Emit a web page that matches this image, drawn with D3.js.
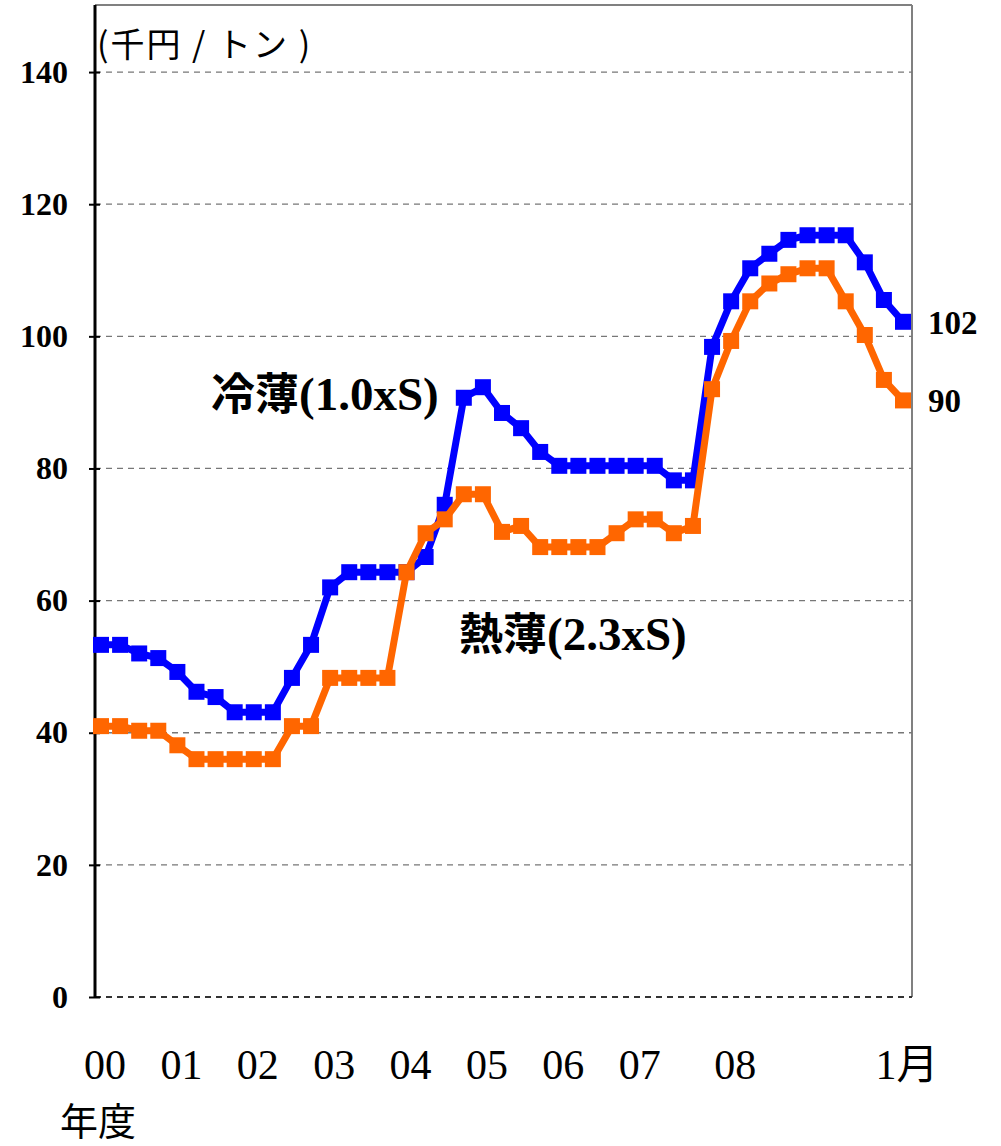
<!DOCTYPE html>
<html>
<head>
  <meta charset="utf-8">
  <script src="https://d3js.org/d3.v7.min.js"></script>
  <style>
    body { margin: 0; background: #fff; }
  </style>
</head>
<body>
<script>
// Cold-rolled sheet (冷薄) and hot-rolled sheet (熱薄) prices, thousand yen / ton
var coldValues = [53.3, 53.3, 52.0, 51.3, 49.2, 46.2, 45.4, 43.1, 43.1, 43.1,
                  48.3, 53.3, 62.0, 64.3, 64.3, 64.3, 64.3, 66.6, 74.5, 90.7,
                  92.3, 88.4, 86.1, 82.5, 80.4, 80.4, 80.4, 80.4, 80.4, 80.4,
                  78.2, 78.2, 98.4, 105.3, 110.3, 112.5, 114.6, 115.3, 115.3, 115.3,
                  111.2, 105.5, 102.2];
var hotValues = [41.0, 41.0, 40.3, 40.3, 38.1, 36.0, 36.0, 36.0, 36.0, 36.0,
                 41.0, 41.0, 48.3, 48.3, 48.3, 48.3, 64.3, 70.2, 72.3, 76.1,
                 76.1, 70.4, 71.3, 68.1, 68.1, 68.1, 68.1, 70.2, 72.3, 72.3,
                 70.2, 71.3, 92.0, 99.3, 105.3, 108.0, 109.4, 110.3, 110.3, 105.3,
                 100.2, 93.4, 90.3];
var xTickLabels = ["00", "01", "02", "03", "04", "05", "06", "07", "08", "1月"];
var xTickIndex = [0, 4, 8, 12, 16, 20, 24, 28, 33, 42];
var yTicks = [0, 20, 40, 60, 80, 100, 120, 140];
var endLabels = ["102", "90"];

var SERIF = '"Liberation Serif", "Noto Sans CJK JP", serif';
var SANS = '"Noto Sans CJK JP", sans-serif';

var width = 1001, height = 1146;
var plot = {left: 95, right: 912, top: 5, bottom: 997};

var svg = d3.select("body").append("svg")
  .attr("width", width)
  .attr("height", height);

var x = d3.scalePoint()
  .domain(d3.range(coldValues.length))
  .range([101, 903]);

var y = d3.scaleLinear()
  .domain([0, 150])
  .range([plot.bottom, 6]);

// frame (top and right border)
svg.append("line")
  .attr("x1", plot.left).attr("x2", plot.right)
  .attr("y1", plot.top).attr("y2", plot.top)
  .attr("stroke", "#808080").attr("stroke-width", 2);
svg.append("line")
  .attr("x1", plot.right).attr("x2", plot.right)
  .attr("y1", plot.top).attr("y2", plot.bottom)
  .attr("stroke", "#808080").attr("stroke-width", 2);

// dashed gridlines
svg.selectAll(".grid")
  .data(yTicks)
  .enter().append("line")
  .attr("class", "grid")
  .attr("x1", plot.left).attr("x2", plot.right)
  .attr("y1", function(d) { return y(d); })
  .attr("y2", function(d) { return y(d); })
  .attr("stroke", function(d) { return d === 0 ? "#333" : "#777"; })
  .attr("stroke-width", function(d) { return d === 0 ? 2 : 1.3; })
  .attr("stroke-dasharray", "6,5");

// y axis
var yAxis = d3.axisLeft(y)
  .tickValues(yTicks)
  .tickSize(6)
  .tickPadding(21);

var gy = svg.append("g")
  .attr("transform", "translate(" + plot.left + ",0)")
  .call(yAxis);
gy.select(".domain").remove();
gy.append("line")
  .attr("x1", 0).attr("x2", 0)
  .attr("y1", plot.top).attr("y2", plot.bottom)
  .attr("stroke", "#000").attr("stroke-width", 3);
gy.selectAll(".tick line")
  .attr("stroke", "#000").attr("stroke-width", 2)
  .attr("x1", 5);
gy.selectAll(".tick text")
  .style("font-family", SERIF)
  .style("font-size", "32px")
  .style("font-weight", "bold")
  .attr("fill", "#000");

// x tick labels
svg.selectAll(".xlab")
  .data(xTickLabels)
  .enter().append("text")
  .attr("class", "xlab")
  .attr("x", function(d, i) { return x(xTickIndex[i]) + 4; })
  .attr("y", 1079)
  .attr("text-anchor", "middle")
  .style("font-family", SERIF)
  .style("font-size", "42px")
  .text(function(d) { return d; });

svg.append("text")
  .attr("x", 60).attr("y", 1135)
  .style("font-family", SANS)
  .style("font-size", "38px")
  .text("年度");

// unit label
svg.append("text")
  .attr("x", 97).attr("y", 57)
  .style("font-family", SANS)
  .style("font-size", "34px")
  .style("letter-spacing", "2px")
  .text("(千円 / トン )");

// series lines
var line = d3.line()
  .x(function(d, i) { return x(i); })
  .y(function(d) { return y(d); });

var series = [
  {values: coldValues, color: "#0000FF"},
  {values: hotValues, color: "#FF6600"}
];

series.forEach(function(s) {
  svg.append("path")
    .datum(s.values)
    .attr("fill", "none")
    .attr("stroke", s.color)
    .attr("stroke-width", 7)
    .attr("stroke-linejoin", "round")
    .attr("d", line);

  svg.selectAll(null)
    .data(s.values)
    .enter().append("rect")
    .attr("x", function(d, i) { return x(i) - 8; })
    .attr("y", function(d) { return y(d) - 8; })
    .attr("width", 16)
    .attr("height", 16)
    .attr("fill", s.color);
});

// series labels: CJK part + latin part
function seriesLabel(xPos, yPos, cjk, latin) {
  var t = svg.append("text")
    .attr("x", xPos).attr("y", yPos)
    .style("font-weight", "bold");
  t.append("tspan")
    .style("font-family", SANS)
    .style("font-size", "44px")
    .text(cjk);
  t.append("tspan")
    .style("font-family", SERIF)
    .style("font-size", "47px")
    .text(latin);
}
seriesLabel(211, 410, "冷薄", "(1.0xS)");
seriesLabel(459, 650, "熱薄", "(2.3xS)");

// end value labels
var last = coldValues.length - 1;
svg.selectAll(".endlab")
  .data([coldValues[last], hotValues[last]])
  .enter().append("text")
  .attr("class", "endlab")
  .attr("x", 928)
  .attr("y", function(d) { return y(d) + 12; })
  .style("font-family", SERIF)
  .style("font-size", "33px")
  .style("font-weight", "bold")
  .text(function(d, i) { return endLabels[i]; });
</script>
</body>
</html>
